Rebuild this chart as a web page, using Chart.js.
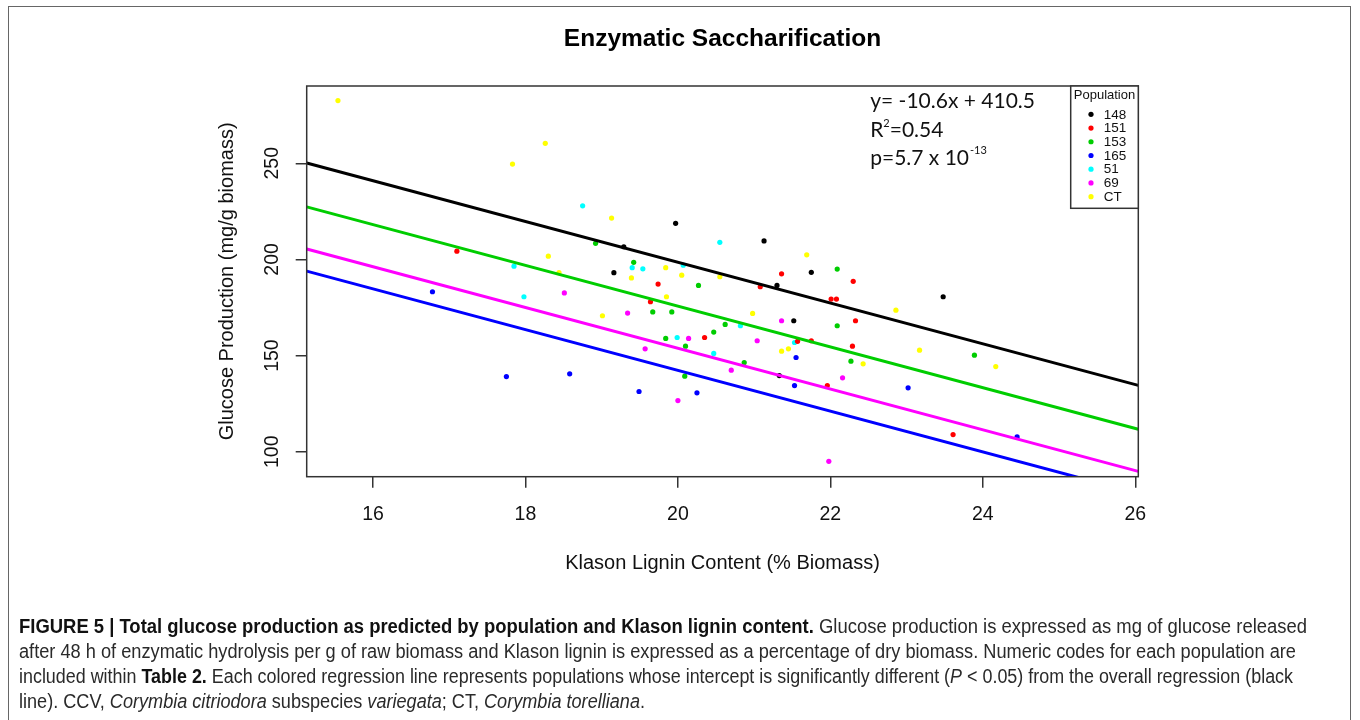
<!DOCTYPE html>
<html>
<head>
<meta charset="utf-8">
<script src="https://cdn.jsdelivr.net/npm/chart.js@4.4.0/dist/chart.umd.min.js"></script>
<style>
html,body{margin:0;padding:0;background:#fff;}
#wrap{position:relative;width:1360px;height:720px;overflow:hidden;background:#fff;}
#frame{position:absolute;left:8px;top:6px;width:1343px;height:760px;border:1px solid #666;box-sizing:border-box;}
#c{position:absolute;left:0;top:0;}
#caption{position:absolute;left:19px;top:613.5px;font-family:"Liberation Sans",Arial,sans-serif;font-size:19.5px;line-height:25px;color:#2a2a2a;white-space:nowrap;}
#caption .ln{height:25px;}
#caption .ln span{display:inline-block;transform-origin:0 50%;}
#caption b{color:#111;}
</style>
</head>
<body>
<div id="wrap">
<div id="frame"></div>
<canvas id="c" width="1360" height="720"></canvas>
<div id="caption"><div class="ln"><span data-w="1288"><b>FIGURE 5 | Total glucose production as predicted by population and Klason lignin content.</b> Glucose production is expressed as mg of glucose released</span></div><div class="ln"><span data-w="1277">after 48 h of enzymatic hydrolysis per g of raw biomass and Klason lignin is expressed as a percentage of dry biomass. Numeric codes for each population are</span></div><div class="ln"><span data-w="1274">included within <b>Table 2.</b> Each colored regression line represents populations whose intercept is significantly different (<i>P</i> &lt; 0.05) from the overall regression (black</span></div><div class="ln"><span data-w="626">line). CCV, <i>Corymbia citriodora</i> subspecies <i>variegata</i>; CT, <i>Corymbia torelliana</i>.</span></div></div>
</div>
<script>
// ---------- data ----------
const populations = ['148', '151', '153', '165', '51', '69', 'CT'];

const lignin148  = [19.97, 19.16, 19.29, 21.13, 21.30, 21.75, 23.48, 21.52, 21.33];
const glucose148 = [218.8, 193.1, 206.6, 209.6, 186.5, 193.3, 180.6, 168.1, 139.6];

const lignin151  = [17.10, 19.74, 19.64, 21.08, 21.36, 22.30, 22.01, 22.08, 22.33, 20.35, 21.57, 21.75, 22.29, 21.96, 23.61];
const glucose151 = [204.3, 187.2, 178.0, 185.8, 192.5, 188.6, 179.4, 179.4, 168.1, 159.4, 157.4, 157.7, 154.9, 134.4, 108.9];

const lignin153  = [18.92, 19.42, 20.27, 22.09, 22.09, 19.67, 19.92, 19.84, 20.10, 20.09, 20.47, 20.62, 20.87, 22.27, 23.89];
const glucose153 = [208.4, 198.5, 186.5, 195.0, 165.5, 172.7, 172.7, 158.9, 154.9, 139.3, 162.2, 166.2, 146.4, 147.1, 150.2];

const lignin165  = [16.78, 17.75, 18.58, 19.49, 20.25, 21.55, 21.53, 23.02, 24.45];
const glucose165 = [183.2, 139.1, 140.5, 131.3, 130.6, 149.0, 134.4, 133.2, 107.7];

const lignin51   = [18.75, 20.55, 17.85, 19.40, 19.54, 20.07, 17.98, 19.99, 20.47, 20.82, 21.53];
const glucose51  = [227.9, 208.9, 196.5, 195.7, 195.1, 197.0, 180.6, 159.4, 151.1, 165.5, 156.8];

const lignin69   = [18.51, 19.34, 20.14, 19.57, 20.00, 20.70, 21.36, 21.04, 22.16, 21.98];
const glucose69  = [182.6, 172.1, 158.9, 153.5, 126.6, 142.4, 168.1, 157.7, 138.4, 95.0];

const ligninCT   = [15.54, 18.26, 17.83, 19.13, 18.30, 18.44, 19.84, 19.39, 20.05, 19.85, 20.55, 21.69, 22.86, 20.98, 21.36, 21.45, 22.43, 23.17, 24.17, 19.01];
const glucoseCT  = [282.6, 260.4, 249.6, 221.5, 201.7, 193.1, 195.7, 190.4, 191.8, 180.6, 191.0, 202.4, 173.6, 171.9, 152.3, 153.5, 145.7, 152.8, 144.3, 170.7];

const xTicks = [16, 18, 20, 22, 24, 26];
const yTicks = [100, 150, 200, 250];

// regression lines (common slope, population intercepts)
const regSlope = -10.6;
const regNames = ['Overall', '153', '69', '165'];
const regIntercepts = [410.5, 387.7, 365.8, 354.3];

const eqLine = 'y= -10.6x + 410.5';
const r2Value = '0.54';
const pMantissa = '5.7';
const pExponent = '-13';

// ---------- styles ----------
const pointColors = ['#000000', '#FF0000', '#00CD00', '#0000FF', '#00FFFF', '#FF00FF', '#FFFF00'];
const regColors = ['#000000', '#00CD00', '#FF00FF', '#0000FF'];
const X_MIN = 15.13, X_MAX = 26.04, Y_MIN = 87.0, Y_MAX = 290.2;

const ligninAll = [lignin148, lignin151, lignin153, lignin165, lignin51, lignin69, ligninCT];
const glucoseAll = [glucose148, glucose151, glucose153, glucose165, glucose51, glucose69, glucoseCT];

const datasets = [];
populations.forEach((p, i) => {
  datasets.push({
    type: 'scatter',
    label: p,
    data: ligninAll[i].map((x, k) => ({x: x, y: glucoseAll[i][k]})),
    backgroundColor: pointColors[i],
    borderColor: pointColors[i],
    pointRadius: 2.6,
    pointBorderWidth: 0,
    pointHoverRadius: 2.6,
    order: 1
  });
});
regNames.forEach((n, i) => {
  datasets.push({
    type: 'line',
    label: 'reg ' + n,
    data: [X_MIN, X_MAX].map(x => ({x: x, y: regIntercepts[i] + regSlope * x})),
    borderColor: regColors[i],
    borderWidth: 3,
    pointRadius: 0,
    fill: false,
    tension: 0,
    clip: 0,
    order: 0
  });
});

const FONT = "'Liberation Sans', Arial, sans-serif";

const overlay = {
  id: 'overlay',
  afterDatasetsDraw(chart) {
    const {ctx, chartArea: a} = chart;
    ctx.save();
    // plot box
    ctx.strokeStyle = '#333';
    ctx.lineWidth = 1.5;
    ctx.strokeRect(a.left, a.top, a.right - a.left, a.bottom - a.top);

    // equation text
    const big = "21px Lato", small = "11px Lato";
    const ex = a.left + 563.5;
    ctx.fillStyle = '#111';
    ctx.textAlign = 'left';
    ctx.textBaseline = 'alphabetic';
    ctx.font = big;
    ctx.fillText(eqLine, ex, a.top + 22.3);
    // R^2
    let y2 = a.top + 50.7;
    ctx.fillText('R', ex, y2);
    let w = ctx.measureText('R').width;
    ctx.font = small;
    ctx.fillText('2', ex + w, y2 - 10);
    let w2 = ctx.measureText('2').width;
    ctx.font = big;
    ctx.fillText('=' + r2Value, ex + w + w2, y2);
    // p value
    let y3 = a.top + 78.5;
    const pTxt = 'p=' + pMantissa + ' x 10';
    ctx.fillText(pTxt, ex, y3);
    w = ctx.measureText(pTxt).width;
    ctx.font = small;
    ctx.fillText(pExponent, ex + w + 1, y3 - 11);

    // legend
    const lx0 = a.right - 67.6, ly0 = a.top, lh = 122.3;
    ctx.fillStyle = '#fff';
    ctx.fillRect(lx0, ly0, a.right - lx0, lh);
    ctx.strokeStyle = '#333';
    ctx.lineWidth = 1.5;
    ctx.strokeRect(lx0, ly0, a.right - lx0, lh);
    ctx.fillStyle = '#111';
    ctx.font = "13px " + FONT;
    ctx.textAlign = 'center';
    ctx.textBaseline = 'middle';
    ctx.fillText('Population', (lx0 + a.right) / 2, ly0 + 9.7);
    ctx.textAlign = 'left';
    ctx.font = "13.5px " + FONT;
    populations.forEach((p, i) => {
      const yy = ly0 + 28.3 + i * 13.73;
      ctx.fillStyle = pointColors[i];
      ctx.beginPath();
      ctx.arc(lx0 + 20.3, yy, 2.6, 0, Math.PI * 2);
      ctx.fill();
      ctx.fillStyle = '#111';
      ctx.fillText(p, lx0 + 33, yy + 0.5);
    });
    ctx.restore();
  }
};

new Chart(document.getElementById('c'), {
  type: 'scatter',
  data: {datasets: datasets},
  options: {
    responsive: false,
    devicePixelRatio: 1,
    animation: false,
    events: [],
    layout: {padding: {left: 206.7, right: 221.7, top: 8, bottom: 133.3}},
    plugins: {
      legend: {display: false},
      tooltip: {enabled: false},
      title: {
        display: true,
        text: 'Enzymatic Saccharification',
        fullSize: false,
        color: '#000',
        font: {family: FONT, size: 24.5, weight: 'bold'},
        padding: {top: 16.5, bottom: 32.1}
      }
    },
    scales: {
      x: {
        type: 'linear',
        min: X_MIN,
        max: X_MAX,
        afterBuildTicks: s => { s.ticks = xTicks.map(v => ({value: v})); },
        afterFit: s => { s.height = 110; },
        border: {display: false},
        grid: {display: true, drawOnChartArea: false, drawTicks: true, tickLength: 11, color: '#333', lineWidth: 1.5},
        ticks: {color: '#111', font: {family: FONT, size: 19.5}, padding: 15.5, maxRotation: 0, minRotation: 0},
        title: {display: true, text: 'Klason Lignin Content (% Biomass)', color: '#111',
                font: {family: FONT, size: 20}, padding: {top: 0, bottom: 11.7}}
      },
      y: {
        type: 'linear',
        min: Y_MIN,
        max: Y_MAX,
        afterBuildTicks: s => { s.ticks = yTicks.map(v => ({value: v})); },
        afterFit: s => { s.width = 100; },
        border: {display: false},
        grid: {display: true, drawOnChartArea: false, drawTicks: true, tickLength: 11, color: '#333', lineWidth: 1.5},
        ticks: {color: '#111', font: {family: FONT, size: 19.5}, padding: 6.5, minRotation: 90, maxRotation: 90, crossAlign: 'center'},
        title: {display: true, text: 'Glucose Production (mg/g biomass)', color: '#111',
                font: {family: FONT, size: 20}, padding: {top: 8.3, bottom: 0}}
      }
    }
  },
  plugins: [overlay]
});

// fit each caption line to the width it has in the reference
document.querySelectorAll('#caption .ln span').forEach(sp => {
  const w = sp.getBoundingClientRect().width;
  const target = parseFloat(sp.dataset.w);
  if (w > 0) sp.style.transform = 'scaleX(' + (target / w) + ')';
});
</script>
</body>
</html>
